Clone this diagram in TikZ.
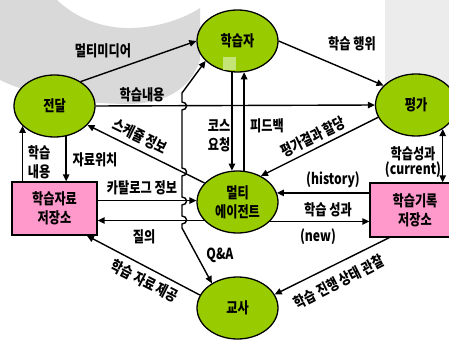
\documentclass[tikz,border=0pt]{standalone}
\usepackage{fontspec}
\setmainfont{Noto Sans CJK KR}[FakeStretch=0.8]
\usetikzlibrary{shapes.geometric,arrows.meta}
\definecolor{leaf}{RGB}{153,204,0}
\definecolor{paleleaf}{RGB}{196,228,120}
\definecolor{pinkbox}{RGB}{255,153,204}
\definecolor{ringgray}{RGB}{217,217,217}
\definecolor{stripgray}{RGB}{236,236,236}
\tikzset{
  agent/.style={ellipse,draw,fill=leaf,line width=1.1pt,minimum width=2.43cm,minimum height=1.86cm,inner sep=0pt,align=center},
  store/.style={rectangle,draw,fill=pinkbox,line width=1.1pt,minimum width=2.55cm,minimum height=1.59cm,inner sep=0pt,align=center},
  flow/.style={line width=1.2pt},
  lbl/.style={inner sep=1pt,align=center}
}

\begin{document}
\begin{tikzpicture}[x=0.03cm,y=-0.03cm,font=\fontsize{13}{16}\selectfont\bfseries,
  >={Triangle[length=6pt,width=5.5pt]}]
  \useasboundingbox (0,0) rectangle (449,342);
  \clip (0,0) rectangle (449,342);
  \fill[stripgray] (385,0) rectangle (449,100);
  \fill[ringgray] (0,0) -- (57,0) .. controls (80,22) and (110,29) .. (133,28)
    .. controls (160,27) and (185,18) .. (200,8) -- (200,60)
    .. controls (190,90) and (165,103) .. (130,104)
    .. controls (80,104) and (30,95) .. (0,80) -- cycle;

  \node[agent] (jeondal) at (54.5,106) {전달};
  \node[agent] (hakseupja) at (237.5,41) {학습자};
  \node[agent] (pyeongga) at (416,105) {평가};
  \node[agent] (multi) at (237.5,202) {멀티\\에이전트};
  \node[agent] (gyosa) at (237.5,308) {교사};
  \node[store] (jaryo) at (54.5,208.5) {학습자료\\저장소};
  \node[store,minimum width=2.7cm,minimum height=1.62cm] (girok) at (415,210) {학습기록\\저장소};
  \fill[paleleaf] (223,57) rectangle (236,70.5);

  \draw[flow,->] (jeondal.43) -- (hakseupja.west);
  \draw[flow,->] (jeondal.east) -- (pyeongga.west);
  \draw[flow,->] (hakseupja.east) -- (pyeongga.149);
  \draw[flow,->] (multi.150) -- (jeondal.-30);
  \draw[flow,->] (hakseupja.-100) -- (multi.100);
  \draw[flow,->] (multi.78) -- (hakseupja.-78);
  \draw[flow,->] (pyeongga.198) -- (multi.48);
  \draw[flow,<->] (pyeongga.-42) -- (pyeongga.-42 |- girok.north);
  \draw[flow,->] (girok.west |- multi.13) -- (multi.13);
  \draw[flow,->] (multi.-31) -- (multi.-31 -| girok.west);
  \draw[flow,->] (jaryo.east |- multi.178) -- (multi.178);
  \draw[flow,->] (multi.209) -- (multi.209 -| jaryo.east);
  \draw[flow,->] (jeondal.-69) -- (jeondal.-69 |- jaryo.north);
  \draw[flow,->] (jeondal.-148 |- jaryo.north) -- (jeondal.-148);
  \draw[flow,->] (gyosa.161) -- (jaryo.-40);
  \draw[flow,->] (girok.-133) -- (gyosa.20);

  \coordinate (qabot) at (182,228);
  \coordinate (qatop) at (182,93);
  \draw[flow,<->] (gyosa.136) -- (qabot)
    \foreach \h in {220,201,172,106} {
      -- (182,\h+4) .. controls (188,\h+4) and (188,\h-4) .. (182,\h-4)}
    -- (qatop) -- (hakseupja.-148);

  \node[lbl] (lmedia) at (103,51) {멀티미디어};
  \node[lbl] (lcontent) at (142,95) {학습내용};
  \node[lbl] (lact) at (352,44) {학습 행위};
  \node[lbl,rotate=-26] (lsched) at (140,136) {스케쥴 정보};
  \node[lbl] (lcourse) at (219,135.5) {코스\\요청};
  \node[lbl] (lfeed) at (267,126) {피드백};
  \node[lbl,rotate=26] (lresult) at (313,137) {평가결과 할당};
  \node[lbl] (lcontent2) at (39,162.5) {학습\\내용};
  \node[lbl] (lloc) at (95,160) {자료위치};
  \node[lbl] (lcat) at (142,188) {카탈로그 정보};
  \node[lbl] (lquery) at (144,237) {질의};
  \node[lbl] (lqa) at (220,255) {Q\&A};
  \node[lbl,rotate=-27] (lsupply) at (145,281) {학습 자료 제공};
  \node[lbl] (lhist) at (333,180) {(history)};
  \node[lbl] (lperf) at (328,210) {학습 성과};
  \node[lbl] (lnew) at (318,237) {(new)};
  \node[lbl] (lcur) at (413,162) {학습성과\\[-3pt](current)};
  \node[lbl,rotate=27] (lwatch) at (339,282) {학습 진행 상태 관찰};
\end{tikzpicture}
\end{document}
